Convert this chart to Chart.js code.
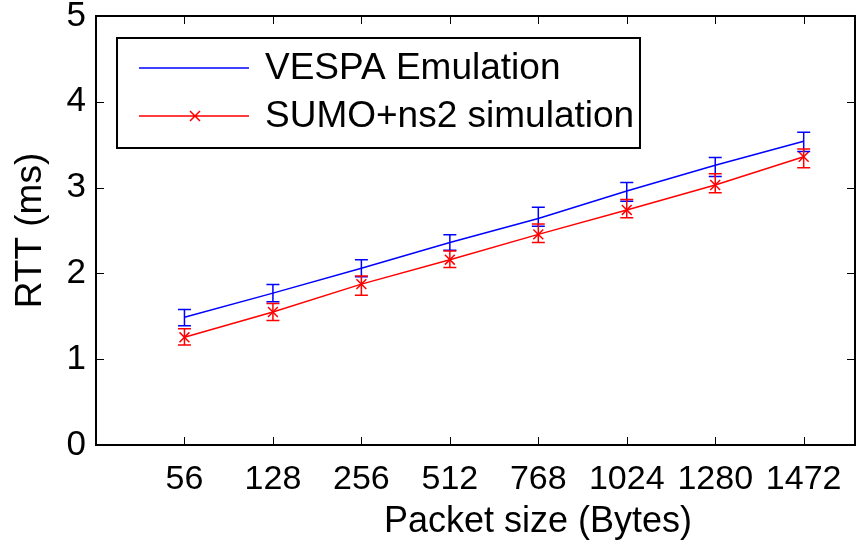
<!DOCTYPE html>
<html>
<head>
<meta charset="utf-8">
<script src="https://cdn.jsdelivr.net/npm/chart.js@4.4.0/dist/chart.umd.min.js"></script>
<style>
  html, body { margin: 0; padding: 0; background: #fff; }
  #wrap { width: 857px; height: 543px; }
</style>
</head>
<body>
<div id="wrap"><canvas id="rtt"></canvas></div>
<script>
const packetSizes = ['56', '128', '256', '512', '768', '1024', '1280', '1472'];

const vespaMean = [1.49, 1.77, 2.06, 2.36, 2.64, 2.96, 3.26, 3.54];
const vespaLow  = [1.39, 1.67, 1.96, 2.27, 2.55, 2.84, 3.13, 3.42];
const vespaHigh = [1.58, 1.87, 2.16, 2.45, 2.77, 3.06, 3.35, 3.645];

const sumoMean = [1.255, 1.55, 1.875, 2.16, 2.455, 2.74, 3.03, 3.36];
const sumoLow  = [1.165, 1.45, 1.745, 2.07, 2.36, 2.65, 2.94, 3.23];
const sumoHigh = [1.355, 1.65, 1.97, 2.26, 2.575, 2.86, 3.16, 3.45];

const yTicks = [0, 1, 2, 3, 4, 5];

const FONT = '"Liberation Sans", Arial, Helvetica, sans-serif';

function pts(arr) {
  return arr.map((v, i) => ({ x: i + 1, y: v }));
}

// error bars, MATLAB style
const errorBars = {
  id: 'errorBars',
  afterDatasetsDraw(chart) {
    const ctx = chart.ctx;
    const xs = chart.scales.x, ys = chart.scales.y;
    const sets = [
      { lo: vespaLow, hi: vespaHigh, color: '#0000ff' },
      { lo: sumoLow, hi: sumoHigh, color: '#ff0000' }
    ];
    ctx.save();
    ctx.lineWidth = 1.5;
    sets.forEach(s => {
      ctx.strokeStyle = s.color;
      s.lo.forEach((lo, i) => {
        const px = xs.getPixelForValue(i + 1);
        const y1 = ys.getPixelForValue(lo);
        const y2 = ys.getPixelForValue(s.hi[i]);
        ctx.beginPath();
        ctx.moveTo(px, y1); ctx.lineTo(px, y2);
        ctx.moveTo(px - 6.5, y1); ctx.lineTo(px + 6.5, y1);
        ctx.moveTo(px - 6.5, y2); ctx.lineTo(px + 6.5, y2);
        ctx.stroke();
      });
    });
    ctx.restore();
  }
};

// box with inward ticks on all four sides, plus the x title
const frameBox = {
  id: 'frameBox',
  afterDraw(chart) {
    const ctx = chart.ctx;
    const a = chart.chartArea;
    const xs = chart.scales.x, ys = chart.scales.y;
    const tl = 8;
    ctx.save();
    ctx.strokeStyle = '#000';
    ctx.lineWidth = 1;
    ctx.beginPath();
    for (let i = 1; i <= packetSizes.length; i++) {
      const px = Math.round(xs.getPixelForValue(i)) + 0.5;
      ctx.moveTo(px, a.bottom); ctx.lineTo(px, a.bottom - tl);
      ctx.moveTo(px, a.top); ctx.lineTo(px, a.top + tl);
    }
    yTicks.forEach(v => {
      const py = Math.round(ys.getPixelForValue(v)) + 0.5;
      ctx.moveTo(a.left, py); ctx.lineTo(a.left + tl, py);
      ctx.moveTo(a.right, py); ctx.lineTo(a.right - tl, py);
    });
    ctx.stroke();
    ctx.lineWidth = 2;
    ctx.strokeRect(a.left, a.top, a.right - a.left, a.bottom - a.top);

    ctx.fillStyle = '#000';
    ctx.font = '36px ' + FONT;
    ctx.textAlign = 'center';
    ctx.textBaseline = 'middle';
    ctx.fillText('Packet size (Bytes)', 538, 522);
    ctx.restore();
  }
};

// legend box in upper left of the axes
const boxLegend = {
  id: 'boxLegend',
  afterDraw(chart) {
    const ctx = chart.ctx;
    const bx = 117, by = 38, bw = 523, bh = 110;
    ctx.save();
    ctx.fillStyle = '#fff';
    ctx.fillRect(bx, by, bw, bh);
    ctx.strokeStyle = '#000';
    ctx.lineWidth = 2;
    ctx.strokeRect(bx, by, bw, bh);
    const rows = [
      { label: 'VESPA Emulation', color: '#0000ff', marker: false, y: 68 },
      { label: 'SUMO+ns2 simulation', color: '#ff0000', marker: true, y: 116 }
    ];
    ctx.font = '37px ' + FONT;
    ctx.textBaseline = 'middle';
    rows.forEach(r => {
      ctx.strokeStyle = r.color;
      ctx.lineWidth = 1.5;
      ctx.beginPath();
      ctx.moveTo(139, r.y); ctx.lineTo(249, r.y);
      if (r.marker) {
        const cx = 195, d = 5;
        ctx.moveTo(cx - d, r.y - d); ctx.lineTo(cx + d, r.y + d);
        ctx.moveTo(cx - d, r.y + d); ctx.lineTo(cx + d, r.y - d);
      }
      ctx.stroke();
      ctx.fillStyle = '#000';
      ctx.fillText(r.label, 265, r.y + 1);
    });
    ctx.restore();
  }
};

new Chart(document.getElementById('rtt'), {
  type: 'line',
  data: {
    datasets: [{
      label: 'VESPA Emulation',
      data: pts(vespaMean),
      borderColor: '#0000ff',
      borderWidth: 1.5,
      pointRadius: 0,
      fill: false,
      tension: 0,
      order: 1
    }, {
      label: 'SUMO+ns2 simulation',
      data: pts(sumoMean),
      borderColor: '#ff0000',
      borderWidth: 1.5,
      pointStyle: 'crossRot',
      pointRadius: 7,
      pointBorderWidth: 1.5,
      pointBorderColor: '#ff0000',
      fill: false,
      tension: 0,
      order: 0
    }]
  },
  plugins: [errorBars, frameBox, boxLegend],
  options: {
    responsive: true,
    maintainAspectRatio: false,
    animation: false,
    layout: { autoPadding: false, padding: { top: 16, right: 2, left: 0, bottom: 0 } },
    plugins: {
      legend: { display: false },
      tooltip: { enabled: false }
    },
    scales: {
      x: {
        type: 'linear',
        min: 0,
        max: 8.58,
        grid: { display: false, drawTicks: false },
        border: { display: false },
        afterBuildTicks(scale) {
          scale.ticks = packetSizes.map((s, i) => ({ value: i + 1 }));
        },
        afterFit(scale) {
          scale.height = 98;
          scale.paddingLeft = 0;
          scale.paddingRight = 0;
        },
        ticks: {
          padding: 14,
          maxRotation: 0,
          autoSkip: false,
          color: '#000',
          font: { size: 34, family: FONT },
          callback: (v) => packetSizes[v - 1]
        }
      },
      y: {
        type: 'linear',
        min: 0,
        max: 5,
        grid: { display: false, drawTicks: false },
        border: { display: false },
        afterBuildTicks(scale) {
          scale.ticks = yTicks.map(v => ({ value: v }));
        },
        afterFit(scale) {
          scale.width = 96;
          scale.paddingTop = 0;
          scale.paddingBottom = 0;
        },
        ticks: {
          padding: 10,
          color: '#000',
          font: { size: 35, family: FONT }
        },
        title: {
          display: true,
          text: 'RTT (ms)',
          color: '#000',
          font: { size: 37, family: FONT, lineHeight: 1 },
          padding: { top: 12, bottom: 0 }
        }
      }
    }
  }
});
</script>
</body>
</html>
